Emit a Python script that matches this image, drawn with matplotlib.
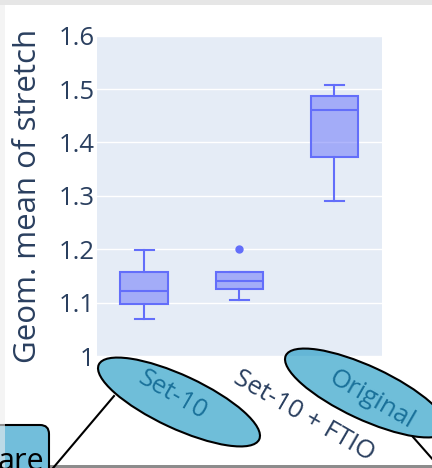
import matplotlib
matplotlib.use("Agg")
import matplotlib.pyplot as plt
import matplotlib.transforms as mtransforms
from matplotlib.patches import Ellipse, Rectangle, FancyBboxPatch
from matplotlib.lines import Line2D

# box statistics per configuration
categories = ["Set-10", "Set-10 + FTIO", "Original"]
q1 = [1.097, 1.126, 1.373]
median = [1.121, 1.141, 1.461]
q3 = [1.158, 1.157, 1.487]
whisker_low = [1.070, 1.104, 1.290]
whisker_high = [1.198, 1.157, 1.508]
outliers = [[], [1.200], []]
y_ticks = [1.0, 1.1, 1.2, 1.3, 1.4, 1.5, 1.6]

W, H = 432, 468
BLUE = "#636efa"
FONT_COLOR = "#2a3f5f"
BUBBLE = (15 / 255, 147 / 255, 193 / 255, 0.6)

plt.rcParams["font.family"] = ["Open Sans", "DejaVu Sans"]

fig = plt.figure(figsize=(W / 100, H / 100), dpi=100)
fig.patch.set_facecolor("white")
ax = fig.add_axes([96.7 / W, 1 - 356 / H, (382 - 96.7) / W, (356 - 35.7) / H])
ax.set_facecolor("#e5ecf6")

# pixel coordinates measured from the top-left corner
px = mtransforms.Affine2D().scale(1 / W, -1 / H).translate(0, 1) + fig.transFigure

stats = []
for i, name in enumerate(categories):
    stats.append(dict(label=name, med=median[i], q1=q1[i], q3=q3[i],
                      whislo=whisker_low[i], whishi=whisker_high[i],
                      fliers=outliers[i]))

ax.bxp(stats, positions=range(len(categories)), widths=0.5, capwidths=0.2,
       patch_artist=True, showfliers=True,
       boxprops=dict(facecolor=(99 / 255, 110 / 255, 250 / 255, 0.5),
                     edgecolor=BLUE, linewidth=1.5),
       medianprops=dict(color=BLUE, linewidth=1.5),
       whiskerprops=dict(color=BLUE, linewidth=1.5),
       capprops=dict(color=BLUE, linewidth=1.5),
       flierprops=dict(marker="o", markerfacecolor=BLUE, markeredgecolor=BLUE,
                       markersize=5))

ax.set_xlim(-0.5, len(categories) - 0.5)
ax.set_ylim(1.0, 1.6)
ax.set_yticks(y_ticks)
ax.set_yticklabels([f"{v:g}" for v in y_ticks])
ax.grid(axis="y", color="white", linewidth=1.0)
ax.set_axisbelow(True)
for s in ax.spines.values():
    s.set_visible(False)

ax.tick_params(axis="y", length=0, pad=1.5, labelsize=18.5, labelcolor=FONT_COLOR)
ax.tick_params(axis="x", length=0, pad=7, labelsize=18.5, labelcolor=FONT_COLOR)
ax.set_xticks(range(len(categories)))
ax.set_xticklabels(categories)
shift = mtransforms.ScaledTranslation(2 / 100, 0, fig.dpi_scale_trans)
for lab in ax.get_xticklabels():
    lab.set_rotation(-30)
    lab.set_ha("left")
    lab.set_va("top")
    lab.set_rotation_mode("anchor")
    lab.set_transform(lab.get_transform() + shift)

fig.text(28.5, 196, "Geom. mean of stretch", transform=px, rotation=90,
         ha="center", va="center", fontsize=22.5, color=FONT_COLOR)

# screenshot frame
fig.add_artist(Rectangle((0, 0), W, 5, transform=px, facecolor="#e6e6e6",
                         edgecolor="none"))
fig.add_artist(Rectangle((50, 465), W, 5, transform=px, facecolor="#8c8c8c",
                         edgecolor="none"))

# callout bubbles around the tick labels
fig.add_artist(Line2D([114, 48], [396, 474], transform=px, color="black",
                      linewidth=1.5))
fig.add_artist(Line2D([413, 442], [437, 470], transform=px, color="black",
                      linewidth=1.5))
fig.add_artist(Ellipse((179, 402), 177, 53, angle=25, transform=px,
                       facecolor=BUBBLE, edgecolor="black", linewidth=1.5))
fig.add_artist(Ellipse((366, 393), 177, 53, angle=25, transform=px,
                       facecolor=BUBBLE, edgecolor="black", linewidth=1.5))

fig.add_artist(FancyBboxPatch((-30, 425), 79, 70, transform=px,
                              boxstyle="round,pad=0,rounding_size=9",
                              facecolor=(114 / 255, 190 / 255, 219 / 255),
                              edgecolor="black", linewidth=1.5))
fig.text(44, 470, "are", transform=px, ha="right", va="baseline",
         fontsize=22, color="black")
fig.add_artist(Rectangle((0, 5), 5, H, transform=px, facecolor="#eeeeee",
                         edgecolor="none", alpha=0.6))

fig.savefig("out.png", dpi=100)
